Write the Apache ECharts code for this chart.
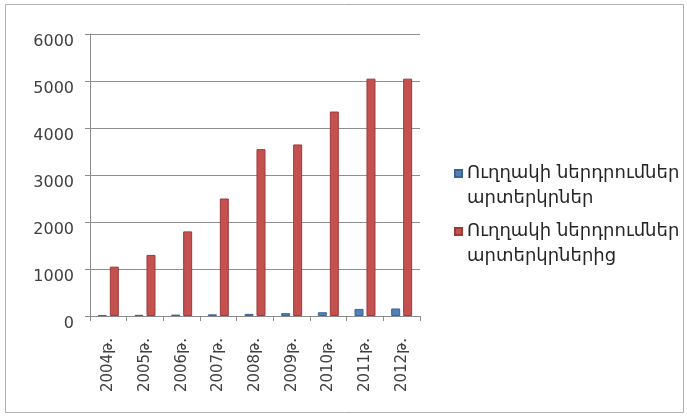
<!DOCTYPE html>
<html>
<head>
<meta charset="utf-8">
<script src="https://cdn.jsdelivr.net/npm/echarts@6/dist/echarts.min.js"></script>
<style>
  html, body { margin: 0; padding: 0; background: #fff; }
  #chart { width: 687px; height: 416px; }
</style>
</head>
<body>
<div id="chart"></div>
<script>
// Years on the category axis
const years = ['2004թ.', '2005թ.', '2006թ.', '2007թ.', '2008թ.', '2009թ.', '2010թ.', '2011թ.', '2012թ.'];
// Direct investments abroad
const outward = [20, 25, 30, 35, 45, 60, 80, 150, 160];
// Direct investments from abroad
const inward = [1050, 1300, 1800, 2500, 3550, 3650, 4350, 5050, 5050];
// Value axis ticks
const yTicks = [0, 1000, 2000, 3000, 4000, 5000, 6000];

const seriesNames = [
  'Ուղղակի ներդրումներ\nարտերկրներ',
  'Ուղղակի ներդրումներ\nարտերկրներից'
];

const legendText = {
  fontFamily: '"DejaVu Sans", sans-serif',
  fontSize: 18,
  lineHeight: 25,
  color: '#262626'
};

// One legend block per series; a leading blank line puts the swatch beside the first text line
function legendBlock(name, top) {
  return {
    orient: 'vertical',
    left: 449,
    top: top,
    itemWidth: 7,
    itemHeight: 7,
    itemGap: 0,
    icon: 'rect',
    data: [name],
    formatter: n => ' \n' + n,
    textStyle: legendText
  };
}

const chart = echarts.init(document.getElementById('chart'), null, { renderer: 'canvas' });

chart.setOption({
  animation: false,
  backgroundColor: '#ffffff',
  graphic: [{
    type: 'rect',
    shape: { x: 5.5, y: 4.5, width: 678, height: 408 },
    style: { fill: 'none', stroke: '#b0b0b0', lineWidth: 1 },
    silent: true
  }],
  grid: { left: 90, right: 267, top: 34, bottom: 100 },
  legend: [
    legendBlock(seriesNames[0], 131),
    legendBlock(seriesNames[1], 189)
  ],
  xAxis: {
    type: 'category',
    data: years,
    axisLine: { lineStyle: { color: '#8c8c8c', width: 1 } },
    axisTick: { show: true, length: 5, lineStyle: { color: '#8c8c8c' } },
    axisLabel: {
      rotate: 90,
      margin: 22,
      fontFamily: '"DejaVu Sans", sans-serif',
      fontSize: 15,
      color: '#404040'
    }
  },
  yAxis: {
    type: 'value',
    min: yTicks[0],
    max: yTicks[yTicks.length - 1],
    interval: yTicks[1] - yTicks[0],
    axisLine: { show: true, lineStyle: { color: '#8c8c8c', width: 1 } },
    axisTick: { show: true, length: 5, lineStyle: { color: '#8c8c8c' } },
    splitLine: { lineStyle: { color: '#8f8f8f', width: 1 } },
    axisLabel: {
      margin: 16,
      fontFamily: '"DejaVu Sans", sans-serif',
      fontSize: 16,
      color: '#404040',
      verticalAlign: 'top',
      formatter: v => String(v)
    }
  },
  series: [
    {
      name: seriesNames[0],
      type: 'bar',
      data: outward,
      barWidth: 9,
      barGap: '33%',
      itemStyle: { color: '#4f81bd', borderColor: '#3a6597', borderWidth: 1 }
    },
    {
      name: seriesNames[1],
      type: 'bar',
      data: inward,
      barWidth: 9,
      itemStyle: { color: '#c4504f', borderColor: '#9e3b39', borderWidth: 1 }
    }
  ]
});
</script>
</body>
</html>
